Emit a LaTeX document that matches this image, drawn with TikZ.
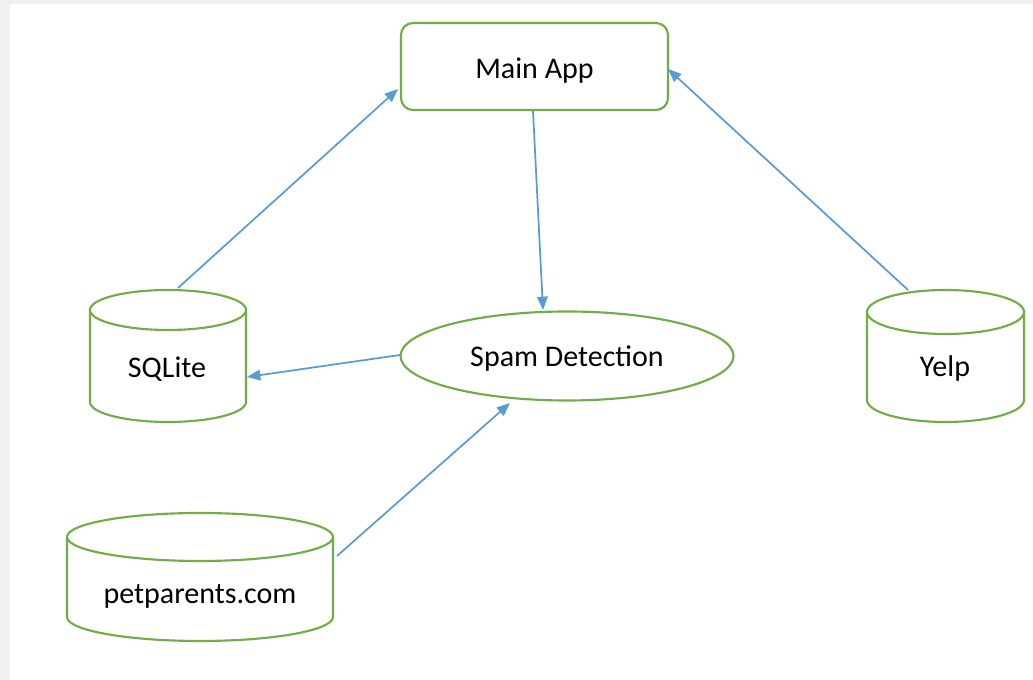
\documentclass[tikz,border=0pt]{standalone}
\usepackage{fontspec}
\setmainfont{Carlito}
\usetikzlibrary{shapes.geometric,arrows.meta}
\definecolor{grn}{HTML}{70AD47}
\definecolor{blu}{HTML}{5B9BD5}
\definecolor{edge}{HTML}{F0F0F0}
\tikzset{
  box/.style={draw=grn, line width=1.6pt, rounded corners=9pt, fill=white},
  oval/.style={draw=grn, line width=1.6pt, ellipse, inner sep=0pt, fill=white},
  cyl/.style={draw=grn, line width=1.6pt, fill=white},
  lbl/.style={font=\fontsize{22.5}{27}\selectfont, text=black},
  conn/.style={draw=blu, line width=1.3pt, -{Triangle[length=10pt,width=8pt]}}
}
\begin{document}
\begin{tikzpicture}[x=0.75pt,y=0.75pt]
\useasboundingbox (0,0) rectangle (1033,680);
\fill[edge] (0,0) rectangle (1033,680);
\fill[white] (10,0) rectangle (1033,676);
% Main App
\node[box, lbl, text depth=0pt, text height=17.5pt, minimum width=200.25pt, minimum height=65.25pt] (main) at (534.5,613.5) {Main App};
% Spam Detection
\node[oval, lbl, text depth=0pt, minimum width=249.75pt, minimum height=66.75pt] (spam) at (567,324) {Spam Detection};
% SQLite cylinder
\draw[cyl] (90,370) -- (90,278) arc[start angle=180, end angle=360, x radius=58.5pt, y radius=15pt] -- (246,370);
\draw[cyl] (168,370) ellipse [x radius=58.5pt, y radius=15pt];
\node[lbl] (sqlite) at (167,311) {SQLite};
% Yelp cylinder
\draw[cyl] (867,368) -- (867,280) arc[start angle=180, end angle=360, x radius=58.875pt, y radius=16.5pt] -- (1024,368);
\draw[cyl] (945.5,368) ellipse [x radius=58.875pt, y radius=16.5pt];
\node[lbl] (yelp) at (945,311) {Yelp};
% petparents cylinder
\draw[cyl] (67,143) -- (67,63) arc[start angle=180, end angle=360, x radius=99.75pt, y radius=18pt] -- (333,143);
\draw[cyl] (200,143) ellipse [x radius=99.75pt, y radius=18pt];
\node[lbl] (pet) at (200,84) {petparents.com};
% connector end points
\coordinate (sqliteTop) at (178,392);
\coordinate (mainLeft) at (398,591);
\coordinate (mainBot) at (533,569);
\coordinate (spamTop) at (543,370);
\coordinate (spamLeft) at (400,325);
\coordinate (sqliteRight) at (247,303);
\coordinate (petRight) at (337,124);
\coordinate (spamBot) at (510,277);
\coordinate (yelpTop) at (908,390);
\coordinate (mainRight) at (668,611);
\draw[conn] (sqliteTop) -- (mainLeft);
\draw[conn] (mainBot) -- (spamTop);
\draw[conn] (spamLeft) -- (sqliteRight);
\draw[conn] (petRight) -- (spamBot);
\draw[conn] (yelpTop) -- (mainRight);
\end{tikzpicture}
\end{document}
